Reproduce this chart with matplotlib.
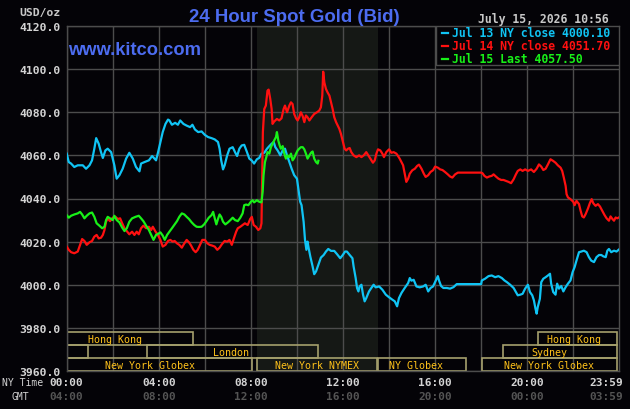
import numpy as np
import matplotlib.pyplot as plt
from matplotlib.patches import Rectangle
from matplotlib.lines import Line2D
from matplotlib.transforms import blended_transform_factory

# Jul 13 NY close (cyan) - hours after 00:00 NY time, price
jul13_hours = [0.00, 0.09, 0.19, 0.33, 0.48, 0.70, 0.84, 0.99, 1.10, 1.20, 1.28, 1.39, 1.49, 1.57, 1.68, 1.78,
               1.93, 2.07, 2.17, 2.29, 2.43, 2.58, 2.72, 2.87, 3.01, 3.16, 3.23, 3.38, 3.57, 3.71, 3.88, 3.97,
               4.07, 4.17, 4.29, 4.40, 4.46, 4.57, 4.71, 4.83, 4.93, 5.07, 5.21, 5.36, 5.46, 5.57, 5.71, 5.86,
               6.00, 6.14, 6.29, 6.43, 6.57, 6.64, 6.71, 6.79, 6.86, 6.97, 7.07, 7.21, 7.31, 7.40, 7.50, 7.60,
               7.71, 7.83, 7.93, 8.03, 8.14, 8.26, 8.36, 8.46, 8.58, 8.70, 8.80, 8.90, 8.99, 9.06, 9.16, 9.28,
               9.38, 9.48, 9.57, 9.67, 9.77, 9.88, 10.00, 10.06, 10.14, 10.20, 10.29, 10.35, 10.41, 10.46, 10.51,
               10.58, 10.68, 10.75, 10.83, 10.93, 11.04, 11.16, 11.26, 11.36, 11.48, 11.62, 11.74, 11.88, 11.99,
               12.09, 12.17, 12.29, 12.41, 12.46, 12.55, 12.61, 12.67, 12.72, 12.80, 12.87, 12.94, 13.01, 13.13,
               13.23, 13.33, 13.42, 13.57, 13.71, 13.86, 14.00, 14.14, 14.25, 14.35, 14.43, 14.54, 14.68, 14.83,
               14.90, 14.97, 15.07, 15.19, 15.33, 15.48, 15.59, 15.70, 15.80, 15.91, 16.03, 16.12, 16.17, 16.26,
               16.36, 16.51, 16.65, 16.80, 16.94, 18.00, 18.03, 18.17, 18.32, 18.46, 18.61, 18.75, 18.90, 19.01,
               19.12, 19.26, 19.41, 19.51, 19.59, 19.70, 19.80, 19.91, 20.03, 20.12, 20.22, 20.29, 20.36, 20.41,
               20.46, 20.55, 20.61, 20.70, 20.80, 20.90, 20.99, 21.04, 21.13, 21.23, 21.30, 21.38, 21.48, 21.57,
               21.67, 21.77, 21.88, 21.97, 22.06, 22.14, 22.25, 22.35, 22.46, 22.58, 22.68, 22.78, 22.90, 23.01,
               23.12, 23.22, 23.30, 23.41, 23.48, 23.55, 23.65, 23.77, 23.88, 23.98]
jul13_price = [4060.8, 4056.9, 4056.2, 4054.6, 4055.4, 4055.4, 4053.8, 4055.4, 4057.7, 4063.1, 4068.0, 4065.4,
               4061.5, 4058.8, 4062.3, 4063.1, 4061.5, 4055.4, 4049.2, 4050.8, 4053.8, 4058.5, 4061.2, 4058.5,
               4054.6, 4052.6, 4056.2, 4056.9, 4057.7, 4059.7, 4057.7, 4061.5, 4066.2, 4070.8, 4074.6, 4076.6,
               4076.2, 4074.2, 4075.1, 4074.2, 4076.2, 4074.6, 4073.8, 4073.1, 4074.2, 4072.0, 4070.8, 4071.1,
               4069.5, 4068.5, 4068.0, 4067.4, 4066.2, 4063.1, 4057.7, 4053.5, 4055.4, 4060.0, 4063.1, 4063.8,
               4061.5, 4059.7, 4063.1, 4064.6, 4064.9, 4061.5, 4058.5, 4057.7, 4056.2, 4058.2, 4058.8, 4060.8,
               4061.2, 4063.1, 4064.3, 4065.4, 4066.2, 4063.8, 4062.3, 4060.0, 4062.3, 4063.1, 4060.0, 4056.9,
               4053.8, 4050.8, 4049.2, 4044.6, 4038.5, 4036.9, 4029.2, 4020.8, 4016.2, 4020.0, 4016.9, 4013.1,
               4008.5, 4004.9, 4006.2, 4009.2, 4012.6, 4013.8, 4015.4, 4016.6, 4015.7, 4015.7, 4014.2, 4012.3,
               4013.8, 4015.4, 4015.4, 4013.8, 4012.3, 4008.5, 4003.1, 3998.5, 3996.9, 3999.2, 4000.0, 3995.4,
               3992.3, 3993.8, 3996.9, 3998.5, 4000.0, 3998.8, 3999.2, 3997.7, 3995.4, 3994.2, 3993.1, 3992.3,
               3990.0, 3993.8, 3996.2, 3998.5, 4000.8, 4003.1, 4001.9, 4002.3, 3999.2, 3998.8, 3999.2, 4000.0,
               3996.9, 3998.5, 3999.2, 4002.0, 4004.0, 4002.0, 3999.4, 3998.5, 3998.5, 3998.2, 3998.9, 4000.3,
               4000.3, 4002.0, 4002.8, 4004.0, 4004.3, 4003.5, 4004.0, 4003.1, 4002.0, 4001.2, 4000.0, 3998.5,
               3996.6, 3995.1, 3995.4, 3995.8, 3998.2, 4000.0, 3996.6, 3995.1, 3992.8, 3988.9, 3986.6, 3989.7,
               3993.5, 4001.2, 4002.8, 4003.5, 4004.3, 4005.1, 4000.5, 3996.6, 3995.4, 4000.5, 3998.2, 3999.4,
               3996.9, 3998.9, 4000.5, 4002.0, 4005.8, 4008.2, 4011.2, 4015.1, 4015.4, 4015.8, 4015.1, 4012.8,
               4011.2, 4010.5, 4012.8, 4013.8, 4013.8, 4013.2, 4012.8, 4015.8, 4016.6, 4015.1, 4015.8, 4015.4,
               4016.3]

# Jul 14 NY close (red)
jul14_hours = [0.00, 0.09, 0.19, 0.33, 0.48, 0.58, 0.67, 0.77, 0.87, 0.99, 1.10, 1.20, 1.30, 1.39, 1.49, 1.57,
               1.64, 1.71, 1.78, 1.88, 2.00, 2.12, 2.22, 2.32, 2.41, 2.51, 2.61, 2.72, 2.84, 2.94, 3.04, 3.13,
               3.23, 3.33, 3.45, 3.57, 3.67, 3.74, 3.86, 3.96, 4.07, 4.17, 4.29, 4.40, 4.50, 4.60, 4.69, 4.79,
               4.89, 5.00, 5.11, 5.21, 5.31, 5.40, 5.50, 5.60, 5.69, 5.79, 5.89, 6.00, 6.11, 6.21, 6.31, 6.43,
               6.54, 6.64, 6.74, 6.86, 6.97, 7.07, 7.17, 7.26, 7.36, 7.43, 7.54, 7.64, 7.74, 7.86, 7.97, 8.04,
               8.12, 8.22, 8.32, 8.41, 8.46, 8.49, 8.52, 8.58, 8.65, 8.72, 8.77, 8.84, 8.90, 8.94, 9.01, 9.13,
               9.23, 9.33, 9.42, 9.48, 9.57, 9.67, 9.74, 9.81, 9.88, 9.96, 10.03, 10.10, 10.17, 10.25, 10.32,
               10.39, 10.46, 10.54, 10.64, 10.75, 10.87, 10.97, 11.04, 11.10, 11.14, 11.19, 11.26, 11.33, 11.41,
               11.48, 11.55, 11.62, 11.70, 11.77, 11.84, 11.91, 12.00, 12.07, 12.14, 12.22, 12.29, 12.36, 12.46,
               12.58, 12.70, 12.80, 12.90, 13.01, 13.10, 13.19, 13.30, 13.38, 13.45, 13.52, 13.62, 13.71, 13.78,
               13.88, 14.00, 14.10, 14.20, 14.32, 14.39, 14.46, 14.54, 14.61, 14.68, 14.75, 14.83, 14.90, 15.01,
               15.12, 15.22, 15.30, 15.41, 15.51, 15.59, 15.70, 15.80, 15.91, 16.00, 16.12, 16.22, 16.32, 16.43,
               16.55, 16.65, 16.75, 16.87, 16.99, 18.00, 18.06, 18.14, 18.25, 18.35, 18.46, 18.54, 18.64, 18.75,
               18.87, 18.97, 19.07, 19.19, 19.30, 19.41, 19.51, 19.59, 19.70, 19.80, 19.91, 20.03, 20.17, 20.29,
               20.41, 20.51, 20.61, 20.70, 20.80, 20.90, 21.01, 21.13, 21.23, 21.33, 21.45, 21.52, 21.59, 21.67,
               21.71, 21.77, 21.88, 22.00, 22.06, 22.14, 22.25, 22.32, 22.39, 22.46, 22.54, 22.64, 22.72, 22.80,
               22.87, 22.97, 23.07, 23.16, 23.26, 23.36, 23.45, 23.55, 23.62, 23.70, 23.77, 23.84, 23.91, 23.98]
jul14_price = [4017.7, 4016.2, 4015.1, 4014.6, 4015.4, 4018.5, 4021.2, 4020.3, 4018.5, 4019.7, 4020.3, 4022.3,
               4023.1, 4021.5, 4021.8, 4023.1, 4025.4, 4029.2, 4030.8, 4029.5, 4031.1, 4031.5, 4030.5, 4030.8,
               4028.5, 4026.2, 4024.9, 4023.4, 4024.6, 4023.1, 4024.6, 4023.4, 4026.2, 4027.4, 4026.2, 4026.9,
               4025.4, 4026.9, 4024.6, 4023.1, 4020.8, 4017.7, 4018.5, 4020.3, 4020.8, 4020.0, 4020.3, 4019.2,
               4018.5, 4017.2, 4019.2, 4020.8, 4019.7, 4018.2, 4016.2, 4015.1, 4016.2, 4018.5, 4020.8, 4020.8,
               4019.2, 4018.5, 4018.2, 4017.7, 4016.2, 4017.2, 4018.8, 4020.3, 4020.0, 4020.8, 4018.5, 4021.5,
               4024.6, 4026.2, 4026.9, 4027.7, 4028.5, 4027.7, 4030.5, 4031.5, 4027.7, 4026.9, 4025.4, 4026.2,
               4028.5, 4050.8, 4070.8, 4081.5, 4083.1, 4090.0, 4090.5, 4086.2, 4081.5, 4074.6, 4075.7, 4076.9,
               4076.2, 4077.2, 4081.5, 4083.1, 4080.0, 4083.1, 4084.6, 4083.8, 4079.2, 4077.2, 4076.2, 4077.7,
               4080.0, 4078.2, 4075.4, 4078.5, 4077.7, 4076.2, 4077.7, 4079.2, 4080.0, 4080.8, 4082.3, 4087.7,
               4098.8, 4093.8, 4090.8, 4089.2, 4087.7, 4084.6, 4081.5, 4077.7, 4075.4, 4073.8, 4072.3, 4070.0,
               4066.2, 4063.1, 4062.3, 4063.1, 4063.4, 4061.5, 4060.0, 4059.2, 4060.0, 4059.2, 4060.0, 4061.5,
               4060.0, 4058.5, 4056.6, 4057.7, 4060.8, 4062.8, 4062.3, 4060.8, 4059.2, 4061.5, 4062.8, 4061.2,
               4061.5, 4060.8, 4059.7, 4058.5, 4056.9, 4055.4, 4051.5, 4047.7, 4049.2, 4051.5, 4053.1, 4053.8,
               4055.1, 4055.7, 4053.8, 4051.5, 4050.0, 4050.8, 4052.3, 4053.1, 4054.8, 4054.3, 4053.5, 4053.2,
               4052.3, 4051.2, 4050.2, 4049.7, 4051.2, 4052.0, 4052.0, 4051.7, 4050.5, 4049.7, 4050.2, 4050.5,
               4051.2, 4050.2, 4049.2, 4048.6, 4048.6, 4048.2, 4047.7, 4047.1, 4048.9, 4051.2, 4052.8, 4053.5,
               4052.8, 4053.5, 4052.8, 4053.5, 4052.3, 4053.8, 4055.8, 4054.8, 4053.2, 4053.8, 4055.8, 4058.2,
               4057.4, 4056.6, 4055.4, 4054.3, 4052.8, 4049.7, 4045.8, 4042.0, 4040.5, 4039.7, 4038.5, 4036.9,
               4038.9, 4037.4, 4034.3, 4031.7, 4031.2, 4032.8, 4035.4, 4037.8, 4039.7, 4037.8, 4036.6, 4037.4,
               4036.3, 4034.3, 4032.3, 4030.8, 4029.7, 4031.7, 4030.5, 4029.7, 4031.2, 4030.8, 4031.2]

# Jul 15 so far (green)
jul15_hours = [0.00, 0.09, 0.19, 0.33, 0.48, 0.58, 0.67, 0.77, 0.87, 0.99, 1.10, 1.20, 1.30, 1.42, 1.54, 1.64,
               1.71, 1.78, 1.88, 2.00, 2.07, 2.17, 2.29, 2.41, 2.51, 2.61, 2.72, 2.84, 2.99, 3.13, 3.23, 3.33,
               3.45, 3.57, 3.67, 3.77, 3.88, 4.00, 4.07, 4.17, 4.26, 4.36, 4.46, 4.57, 4.69, 4.79, 4.89, 5.00,
               5.11, 5.21, 5.31, 5.43, 5.54, 5.64, 5.74, 5.86, 5.97, 6.07, 6.17, 6.29, 6.36, 6.43, 6.50, 6.57,
               6.64, 6.71, 6.79, 6.89, 7.00, 7.11, 7.21, 7.31, 7.43, 7.54, 7.64, 7.71, 7.79, 7.89, 8.00, 8.07,
               8.14, 8.26, 8.36, 8.46, 8.51, 8.55, 8.61, 8.67, 8.72, 8.80, 8.87, 8.94, 9.01, 9.09, 9.13, 9.19,
               9.25, 9.30, 9.38, 9.45, 9.52, 9.59, 9.67, 9.74, 9.81, 9.88, 9.96, 10.03, 10.10, 10.17, 10.25,
               10.32, 10.39, 10.46, 10.54, 10.61, 10.68, 10.75, 10.83, 10.90, 10.93]
jul15_price = [4032.3, 4031.1, 4032.0, 4032.6, 4033.1, 4033.8, 4032.6, 4030.8, 4032.0, 4033.1, 4033.5, 4031.5,
               4028.5, 4027.4, 4026.2, 4026.9, 4030.0, 4031.5, 4030.8, 4030.0, 4032.0, 4030.0, 4028.9, 4026.5,
               4024.9, 4026.2, 4029.2, 4030.8, 4031.5, 4032.0, 4030.8, 4029.5, 4027.4, 4025.4, 4023.1, 4020.8,
               4023.1, 4023.8, 4024.3, 4022.8, 4020.8, 4023.1, 4024.6, 4026.2, 4028.0, 4029.5, 4031.5, 4033.1,
               4032.6, 4031.5, 4030.5, 4028.9, 4027.7, 4026.9, 4026.8, 4026.9, 4028.0, 4029.5, 4031.1, 4032.3,
               4033.8, 4030.8, 4028.0, 4030.5, 4032.6, 4031.5, 4029.2, 4028.0, 4028.9, 4030.0, 4031.1, 4030.0,
               4029.5, 4031.1, 4033.1, 4036.9, 4037.2, 4036.9, 4038.5, 4039.2, 4038.2, 4039.2, 4038.5, 4038.2,
               4043.1, 4050.8, 4056.9, 4059.2, 4061.5, 4060.8, 4063.8, 4065.4, 4066.9, 4068.5, 4070.8, 4066.9,
               4064.6, 4063.1, 4064.3, 4060.8, 4058.5, 4060.0, 4059.2, 4060.8, 4057.7, 4058.8, 4060.8, 4062.3,
               4063.1, 4063.8, 4063.8, 4062.8, 4060.8, 4058.5, 4060.0, 4061.2, 4061.8, 4058.5, 4056.9, 4056.2,
               4057.5]

legend_labels = ["Jul 13 NY close 4000.10", "Jul 14 NY close 4051.70", "Jul 15 Last 4057.50"]
tick_hours = [0, 4, 8, 12, 16, 20, 23 + 59 / 60]
ny_labels = ["00:00", "04:00", "08:00", "12:00", "16:00", "20:00", "23:59"]
gmt_labels = ["04:00", "08:00", "12:00", "16:00", "20:00", "00:00", "03:59"]

# market sessions: name, start hour, end hour, row (0 = top), where the name sits
sessions = [("Hong Kong", 0.0, 5.47, 0, 2.10),
            ("", 0.0, 0.94, 1, 0.0),
            ("London", 3.47, 10.93, 1, 7.15),
            ("New York Globex", 0.0, 8.03, 2, 3.63),
            ("New York NYMEX", 8.26, 13.46, 2, 10.87),
            ("NY Globex", 13.50, 17.33, 2, 15.18),
            ("New York Globex", 18.02, 23.91, 2, 20.96),
            ("Sydney", 18.97, 23.91, 1, 20.96),
            ("Hong Kong", 20.45, 23.91, 0, 22.03)]

BG = '#040307'
GRID = '#4c4c4c'
CYAN = '#10c4f4'
RED = '#ff1010'
GREEN = '#18f018'
BLUE = '#4c6cf0'
MONO = 'DejaVu Sans Mono'

W, H = 630, 410


def fx(x):
    return x / W


def fy(y):
    return 1 - y / H


fig = plt.figure(figsize=(W / 100, H / 100), dpi=100, facecolor=BG)
ax = fig.add_axes([fx(66.7), fy(372), (619.3 - 66.7) / W, (372 - 27) / H])
ax.set_facecolor(BG)
ax.set_xlim(0, 24)
ax.set_ylim(3960, 4120)

# NYMEX trading hours shading
ax.axvspan(8.25, 13.53, color='#151815', zorder=0, lw=0)

# grid
ax.set_xticks(np.arange(0, 24, 2))
ax.set_xticklabels([])
ax.set_yticks(np.arange(3960, 4121, 20))
ax.set_yticklabels(["%.1f" % v for v in np.arange(3960, 4121, 20)],
                   family=MONO, fontweight='bold', fontsize=8.2, color='#d4d4d4')
ax.tick_params(length=0, pad=4.2)
ax.grid(True, color=GRID, lw=1.0)
ax.set_axisbelow(True)
for s in ax.spines.values():
    s.set_color(GRID)
    s.set_linewidth(1.0)

# price lines
ax.plot(jul13_hours, jul13_price, color=CYAN, lw=1.6, zorder=3)
ax.plot(jul14_hours, jul14_price, color=RED, lw=1.6, zorder=3)
ax.plot(jul15_hours, jul15_price, color=GREEN, lw=1.6, zorder=4)

# market session boxes
row_top = [3978, 3972, 3966]
for name, start, end, row, label_at in sessions:
    ax.add_patch(Rectangle((start, row_top[row] - 6), end - start, 6, fill=False,
                           edgecolor='#a5a06c', lw=1.2, zorder=2))
    if name:
        ax.text(label_at, row_top[row] - 3.2, name, ha='center', va='center', family=MONO,
                fontsize=7.2, color='#ffc21a', zorder=5)

# legend box
ax.add_patch(Rectangle((16.02, 4101.9), 7.98, 18.1, facecolor=BG, edgecolor=GRID, lw=1.0, zorder=6))
for i, (label, col) in enumerate(zip(legend_labels, [CYAN, RED, GREEN])):
    ypx = 33.5 + i * 13.2
    fig.add_artist(Line2D([fx(442), fx(447.5)], [fy(ypx), fy(ypx)], color=col, lw=1.6, zorder=7))
    fig.text(fx(451.5), fy(ypx), label, family=MONO, fontweight='bold', fontsize=8.3,
             color=col, va='center', ha='left', zorder=7)

# x tick labels, NY time and GMT (last one sits left of the right edge)
tr = blended_transform_factory(ax.transData, fig.transFigure)
for h, ny, gmt in zip(tick_hours, ny_labels, gmt_labels):
    ha = 'center'
    if h > 23:
        ha = 'right'
        h = h + 0.2
    ax.text(h, fy(383), ny, transform=tr, ha=ha, va='center', family=MONO,
            fontweight='bold', fontsize=8.0, color='#d4d4d4')
    ax.text(h, fy(397), gmt, transform=tr, ha=ha, va='center', family=MONO,
            fontweight='bold', fontsize=8.0, color='#545454')
fig.text(fx(2.5), fy(383), "NY Time", family=MONO, fontsize=7.0, color='#d4d4d4', va='center')
fig.text(fx(11), fy(397), "GMT", family=MONO, fontsize=7.0, color='#d4d4d4', va='center')

# titles and labels
fig.text(fx(294.5), fy(22.5), "24 Hour Spot Gold (Bid)", family='Liberation Sans', fontweight='bold',
         fontsize=13.4, color=BLUE, ha='center', va='baseline')
fig.text(fx(68.3), fy(55), "www.kitco.com", family='Liberation Sans', fontweight='bold',
         fontsize=13.2, color=BLUE, ha='left', va='baseline')
fig.text(fx(608.5), fy(19.5), "July 15, 2026 10:56", family=MONO, fontweight='bold', fontsize=8.3,
         color='#c8c8c8', ha='right', va='center')
fig.text(fx(61), fy(13.3), "USD/oz", family=MONO, fontweight='bold', fontsize=8.2,
         color='#c8c8c8', ha='right', va='center')

fig.savefig('out.png', dpi=100, facecolor=BG)
